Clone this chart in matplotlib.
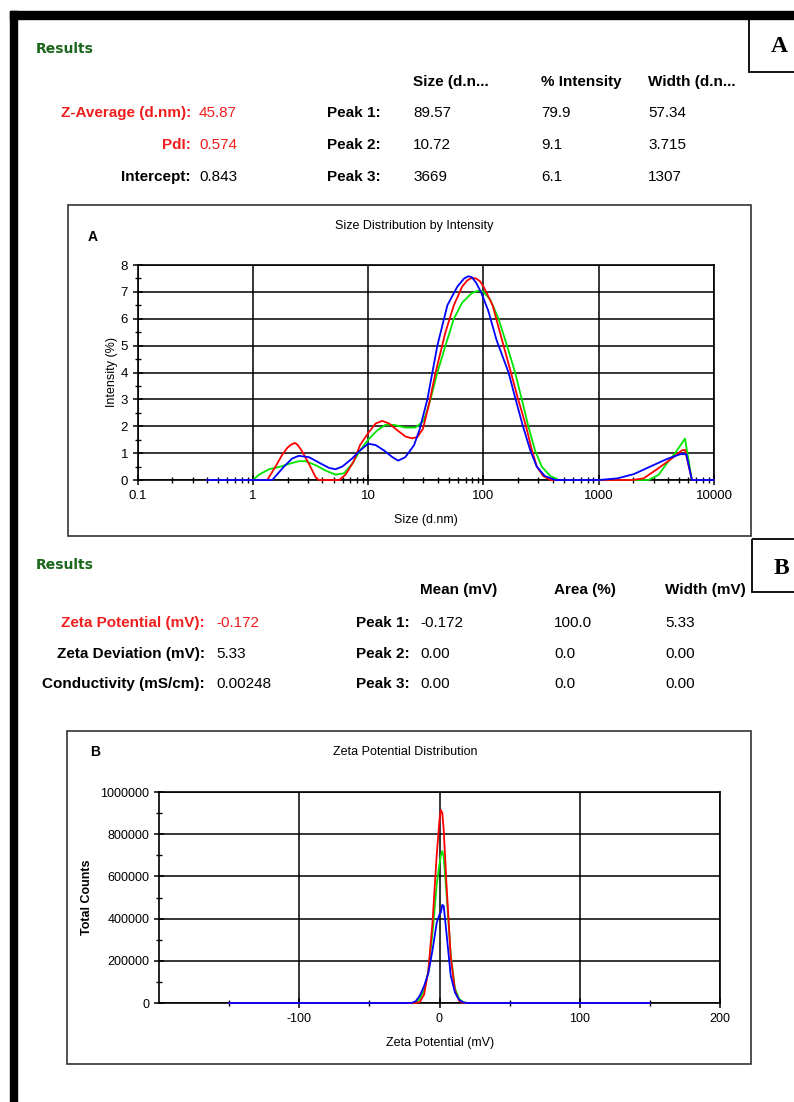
import matplotlib
matplotlib.use('Agg')
import matplotlib.pyplot as plt
from matplotlib.patches import Rectangle
from matplotlib.ticker import FixedLocator, LogLocator, NullFormatter, MultipleLocator

plt.rcParams['font.family'] = ['Liberation Sans', 'DejaVu Sans']
plt.rcParams['axes.unicode_minus'] = False

# ---- size distribution by intensity (three runs) ----
red_size = [0.4, 1, 1.33, 1.57, 1.8, 1.99, 2.15, 2.31, 2.45, 2.64, 3.06, 3.5, 3.74, 5.6, 6.36,
            7.5, 8.5, 10, 11.6, 13.2, 15.2, 17.9, 21, 24, 26.7, 29.8, 33.6, 38.4, 46.8, 55.3,
            65.4, 72, 79, 86, 93, 100, 120, 145, 173, 200, 234, 260, 290, 330, 380, 1950,
            2450, 3300, 4300, 5250, 5600, 6430, 10000]
red_int = [0, 0, 0, 0.5, 0.95, 1.2, 1.32, 1.38, 1.3, 1.1, 0.6, 0.1, 0, 0, 0.2,
           0.7, 1.3, 1.75, 2.1, 2.2, 2.1, 1.85, 1.62, 1.55, 1.6, 1.9, 2.8, 4.0, 5.5, 6.5,
           7.2, 7.42, 7.52, 7.5, 7.4, 7.2, 6.5, 5.2, 4.0, 3.0, 2.0, 1.2, 0.5, 0.15, 0, 0,
           0.06, 0.44, 0.8, 1.1, 1.12, 0, 0]

green_size = [0.4, 1, 1.13, 1.38, 1.74, 2.05, 2.5, 2.86, 3.5, 4.27, 5.2, 6.17, 7.25, 8.5, 10,
              12, 14.1, 16.7, 21, 25.6, 30.3, 34.7, 39.8, 46.8, 55.3, 65.4, 79, 91,
              100, 115, 135, 160, 188, 215, 245, 280, 320, 380, 450, 2700, 3300, 3900,
              4600, 5600, 6430, 10000]
green_int = [0, 0, 0.2, 0.4, 0.5, 0.6, 0.7, 0.7, 0.55, 0.35, 0.2, 0.25, 0.6, 1.1, 1.5,
             1.85, 2.05, 2.05, 1.95, 1.95, 2.2, 3.0, 4.0, 5.0, 6.0, 6.6, 6.95, 7.05,
             7.0, 6.7, 6.0, 5.0, 4.0, 3.0, 2.0, 1.1, 0.5, 0.15, 0, 0, 0.19, 0.62,
             1.0, 1.54, 0, 0]

blue_size = [0.4, 1, 1.47, 1.86, 2.19, 2.5, 3.06, 3.73, 4.57, 5.2, 5.96, 7.25, 8.5, 10,
             11.6, 13.7, 16.2, 18.2, 21, 25, 28, 32.6, 39.8, 48.6, 59.4, 68, 74, 79,
             86, 95, 110, 130, 165, 190, 220, 255, 290, 340, 420, 1000, 1450, 2020, 2800,
             3900, 5100, 5750, 6430, 10000]
blue_int = [0, 0, 0, 0.5, 0.8, 0.9, 0.85, 0.65, 0.45, 0.4, 0.5, 0.8, 1.1, 1.35,
            1.3, 1.1, 0.85, 0.72, 0.85, 1.3, 1.9, 3.0, 5.0, 6.5, 7.2, 7.5, 7.58, 7.55,
            7.35, 7.0, 6.3, 5.2, 4.0, 3.0, 2.0, 1.1, 0.5, 0.15, 0, 0, 0.06, 0.22, 0.5,
            0.78, 0.96, 0.96, 0, 0]

size_ticks = [0.1, 1, 10, 100, 1000, 10000]
size_labels = ['0.1', '1', '10', '100', '1000', '10000']

# ---- zeta potential distribution (three runs) ----
zeta_mv = [-150, -25, -20, -17, -14, -11, -8, -5, -2, 0, 1, 2, 3, 5, 8, 11, 14, 17, 20, 25, 150]
red_counts = [0, 0, 0, 0, 5000, 40000, 150000, 380000, 700000, 870000, 915000, 900000,
              820000, 560000, 220000, 60000, 10000, 0, 0, 0, 0]
green_counts = [0, 0, 0, 0, 20000, 60000, 150000, 330000, 560000, 660000, 700000, 720000,
                690000, 520000, 230000, 70000, 20000, 3000, 0, 0, 0]
blue_counts = [0, 0, 0, 8000, 35000, 80000, 140000, 250000, 380000, 420000, 430000, 465000,
               460000, 330000, 130000, 50000, 15000, 3000, 0, 0, 0]

zeta_ticks = [-100, 0, 100, 200]
count_ticks = [0, 200000, 400000, 600000, 800000, 1000000]

RED = '#ff0000'
GREEN = '#00e600'
BLUE = '#0000ff'
TXT_RED = '#f01e1e'
DARK_GREEN = '#1a661a'

fig = plt.figure(figsize=(7.94, 11.02), dpi=100)

# background layer in pixel coordinates for the report text and boxes
bg = fig.add_axes([0, 0, 1, 1])
bg.set_xlim(0, 794)
bg.set_ylim(1102, 0)
bg.axis('off')
bg.set_zorder(0)

# thick page border
bg.add_patch(Rectangle((10, 11), 784, 8, color='black'))
bg.add_patch(Rectangle((10, 11), 7, 1091, color='black'))

# panel letters in boxes
bg.add_patch(Rectangle((749, 19), 60, 53, fill=False, lw=1.3, ec='black'))
bg.text(779, 47, 'A', ha='center', va='center', fontsize=17, weight='bold',
        family='Liberation Serif')
bg.add_patch(Rectangle((752, 539), 60, 53, fill=False, lw=1.3, ec='black'))
bg.text(781, 568, 'B', ha='center', va='center', fontsize=17, weight='bold',
        family='Liberation Serif')


def t(x, y, s, ha='left', bold=False, color='black', size=11):
    bg.text(x, y, s, ha=ha, va='center', fontsize=size,
            weight='bold' if bold else 'normal', color=color)


# ---- results table A ----
bg.text(36, 49, 'Results', ha='left', va='center', fontsize=10, weight='bold',
        color=DARK_GREEN, family='DejaVu Sans')
t(413, 82, 'Size (d.n...', bold=True)
t(541, 82, '% Intensity', bold=True)
t(648, 82, 'Width (d.n...', bold=True)

t(191, 113, 'Z-Average (d.nm):', ha='right', bold=True, color=TXT_RED)
t(199, 113, '45.87', color=TXT_RED)
t(191, 145, 'PdI:', ha='right', bold=True, color=TXT_RED)
t(199, 145, '0.574', color=TXT_RED)
t(191, 177, 'Intercept:', ha='right', bold=True)
t(199, 177, '0.843')

peaks_a = [['89.57', '79.9', '57.34'], ['10.72', '9.1', '3.715'], ['3669', '6.1', '1307']]
for i, row in enumerate(peaks_a):
    y = 113 + i * 32
    t(381, y, 'Peak %d:' % (i + 1), ha='right', bold=True)
    for x, v in zip([413, 541, 648], row):
        t(x, y, v)

# ---- results table B ----
bg.text(36, 565, 'Results', ha='left', va='center', fontsize=10, weight='bold',
        color=DARK_GREEN, family='DejaVu Sans')
t(420, 590, 'Mean (mV)', bold=True)
t(554, 590, 'Area (%)', bold=True)
t(665, 590, 'Width (mV)', bold=True)

t(205, 623, 'Zeta Potential (mV):', ha='right', bold=True, color=TXT_RED)
t(216, 623, '-0.172', color=TXT_RED)
t(205, 654, 'Zeta Deviation (mV):', ha='right', bold=True)
t(216, 654, '5.33')
t(205, 684, 'Conductivity (mS/cm):', ha='right', bold=True)
t(216, 684, '0.00248')

peaks_b = [['-0.172', '100.0', '5.33'], ['0.00', '0.0', '0.00'], ['0.00', '0.0', '0.00']]
for i, row in enumerate(peaks_b):
    y = 623 + i * 30.5
    t(410, y, 'Peak %d:' % (i + 1), ha='right', bold=True)
    for x, v in zip([420, 554, 665], row):
        t(x, y, v)

# ---- chart frames and captions ----
bg.add_patch(Rectangle((68, 205), 683, 331, fill=False, lw=1.2, ec='#333333'))
bg.text(93, 237, 'A', ha='center', va='center', fontsize=10, weight='bold')
bg.text(414, 226, 'Size Distribution by Intensity', ha='center', va='center', fontsize=9)
bg.text(112, 372, 'Intensity (%)', ha='center', va='center', fontsize=9, rotation=90)
bg.text(426, 520, 'Size (d.nm)', ha='center', va='center', fontsize=9)

bg.add_patch(Rectangle((67, 731), 684, 333, fill=False, lw=1.2, ec='#333333'))
bg.text(95, 752, 'B', ha='center', va='center', fontsize=10, weight='bold')
bg.text(405, 752, 'Zeta Potential Distribution', ha='center', va='center', fontsize=9)
bg.text(87, 897, 'Total Counts', ha='center', va='center', fontsize=9, rotation=90,
        weight='bold')
bg.text(440, 1043, 'Zeta Potential (mV)', ha='center', va='center', fontsize=9)


def style_axes(ax, labelsize):
    ax.set_facecolor('white')
    for s in ax.spines.values():
        s.set_color('black')
        s.set_linewidth(1.2)
    ax.grid(True, which='major', color='black', lw=1.1)
    ax.tick_params(which='major', direction='inout', length=7, width=1.1,
                   labelsize=labelsize, colors='black')
    ax.tick_params(which='minor', direction='inout', length=5, width=1.0, colors='black')
    ax.set_axisbelow(True)


# ---- panel A plot ----
axA = fig.add_axes([137.7 / 794, 1 - 480 / 1102, (714 - 137.7) / 794, 215 / 1102])
axA.set_zorder(1)
axA.set_xscale('log')
for xs, ys, c in [(green_size, green_int, GREEN), (red_size, red_int, RED),
                  (blue_size, blue_int, BLUE)]:
    axA.plot(xs, ys, color=c, lw=1.3, clip_on=False, zorder=3)
axA.set_xlim(0.1, 10000)
axA.set_ylim(0, 8)
axA.xaxis.set_major_locator(FixedLocator(size_ticks))
axA.set_xticklabels(size_labels)
axA.xaxis.set_minor_locator(LogLocator(base=10, subs=range(2, 10)))
axA.xaxis.set_minor_formatter(NullFormatter())
axA.yaxis.set_major_locator(MultipleLocator(1))
axA.yaxis.set_minor_locator(MultipleLocator(0.5))
style_axes(axA, 9.5)

# ---- panel B plot ----
axB = fig.add_axes([159 / 794, 1 - 1003 / 1102, 561 / 794, 211 / 1102])
axB.set_zorder(1)
for ys, c in [(green_counts, GREEN), (red_counts, RED), (blue_counts, BLUE)]:
    axB.plot(zeta_mv, ys, color=c, lw=1.3, clip_on=False, zorder=3)
axB.set_xlim(-200, 200)
axB.set_ylim(0, 1000000)
axB.xaxis.set_major_locator(FixedLocator(zeta_ticks))
axB.xaxis.set_minor_locator(FixedLocator([-150, -50, 50, 150]))
axB.yaxis.set_major_locator(FixedLocator(count_ticks))
axB.yaxis.set_minor_locator(MultipleLocator(100000))
axB.set_yticklabels([str(v) for v in count_ticks])
style_axes(axB, 9)

fig.savefig('out.png', dpi=100)
